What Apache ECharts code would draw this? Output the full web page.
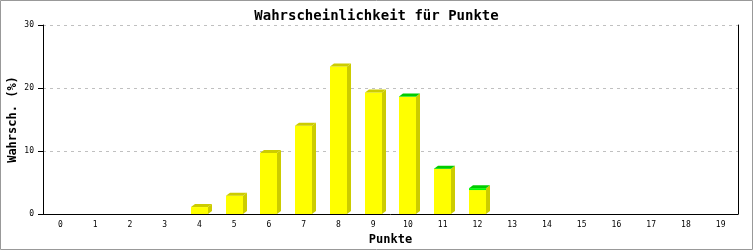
<!DOCTYPE html>
<html>
<head>
<meta charset="utf-8">
<script src="https://cdn.jsdelivr.net/npm/echarts@6/dist/echarts.min.js"></script>
<style>
html,body{margin:0;padding:0;background:#fff;}
#c{width:753px;height:250px;}
</style>
</head>
<body>
<div id="c"></div>
<script>
var categories = ['0','1','2','3','4','5','6','7','8','9','10','11','12','13','14','15','16','17','18','19'];
var yellowValues = [0,0,0,0,1.1,2.9,9.7,14.0,23.4,19.3,18.6,7.15,3.8,0,0,0,0,0,0,0];
var greenValues  = [0,0,0,0,0,0,0,0,0,0,0.05,0.05,0.3,0,0,0,0,0,0,0];
var yTicks = [0,10,20,30];

var FONT = '"DejaVu Sans Mono", "Liberation Mono", monospace';
var data = categories.map(function(c,i){ return [i, yellowValues[i], greenValues[i]]; });

function renderItem(params, api){
  var idx = api.value(0), yv = api.value(1), gv = api.value(2);
  if (yv + gv <= 0) return null;
  var band = api.size([1,0])[0];
  var w = Math.round(band*0.49);
  var dx = 4, dy = 3;
  var base = api.coord([idx, 0]);
  var pY = api.coord([idx, yv]);
  var pT = api.coord([idx, yv+gv]);
  var xl = Math.round(base[0] - w/2), xr = xl + w;
  var yb = base[1], ym = pY[1], yt = pT[1];
  var topColor = gv > 0 ? '#00cc00' : '#cccc00';
  var children = [
    {type:'polygon', shape:{points:[[xr,yb],[xr+dx,yb-dy],[xr+dx,yt-dy],[xr,yt]]}, style:{fill:'#cccc00'}},
    {type:'rect', shape:{x:xl, y:ym, width:w, height:yb-ym}, style:{fill:'#ffff00'}},
  ];
  if (gv > 0) {
    children.push({type:'rect', shape:{x:xl, y:yt, width:w, height:ym-yt}, style:{fill:'#00ff00'}});
  }
  children.push({type:'polygon', shape:{points:[[xl,yt],[xl+dx,yt-dy],[xr+dx,yt-dy],[xr,yt]]}, style:{fill:topColor}});
  return {type:'group', children:children};
}

var chart = echarts.init(document.getElementById('c'), null, {renderer:'canvas'});
chart.setOption({
  animation:false,
  backgroundColor:'#ffffff',
  title:{
    text:'Wahrscheinlichkeit für Punkte',
    left:'center', top:4,
    textStyle:{fontFamily:FONT, fontSize:14, fontWeight:'bold', color:'#000'}
  },
  graphic:[{type:'rect', shape:{x:0.5,y:0.5,width:752,height:249}, style:{fill:null, stroke:'#999999', lineWidth:1}, silent:true}],
  grid:{left:43, right:15, top:25, bottom:36, containLabel:false, outerBoundsMode:'none'},
  xAxis:{
    type:'category', data:categories,
    name:'Punkte', nameLocation:'middle', nameGap:20, nameMoveOverlap:false,
    nameTextStyle:{fontFamily:FONT, fontSize:12, fontWeight:'bold', color:'#000'},
    axisLine:{lineStyle:{color:'#000', width:1}},
    axisTick:{show:false},
    axisLabel:{fontFamily:FONT, fontSize:8, color:'#000', margin:7, interval:0}
  },
  yAxis:[{
    type:'value', min:0, max:30, interval:10,
    name:'Wahrsch. (%)', nameLocation:'middle', nameGap:24, nameMoveOverlap:false,
    nameTextStyle:{fontFamily:FONT, fontSize:12, fontWeight:'bold', color:'#000'},
    axisLine:{show:true, lineStyle:{color:'#000', width:1}},
    axisTick:{show:true, length:5, lineStyle:{color:'#000'}},
    axisLabel:{fontFamily:FONT, fontSize:8, color:'#000', margin:9,
      formatter:function(v){ return yTicks.indexOf(v) >= 0 ? String(v) : ''; }},
    splitLine:{show:true, lineStyle:{color:'#c0c0c0', type:[3,4], width:1}}
  },{
    type:'value', min:0, max:30, interval:10, position:'right',
    axisLine:{show:true, lineStyle:{color:'#000', width:1}},
    axisTick:{show:false}, axisLabel:{show:false}, splitLine:{show:false}
  }],
  series:[{
    type:'custom',
    renderItem:renderItem,
    encode:{x:0, y:[1,2]},
    data:data,
    clip:false
  }]
});
</script>
</body>
</html>
